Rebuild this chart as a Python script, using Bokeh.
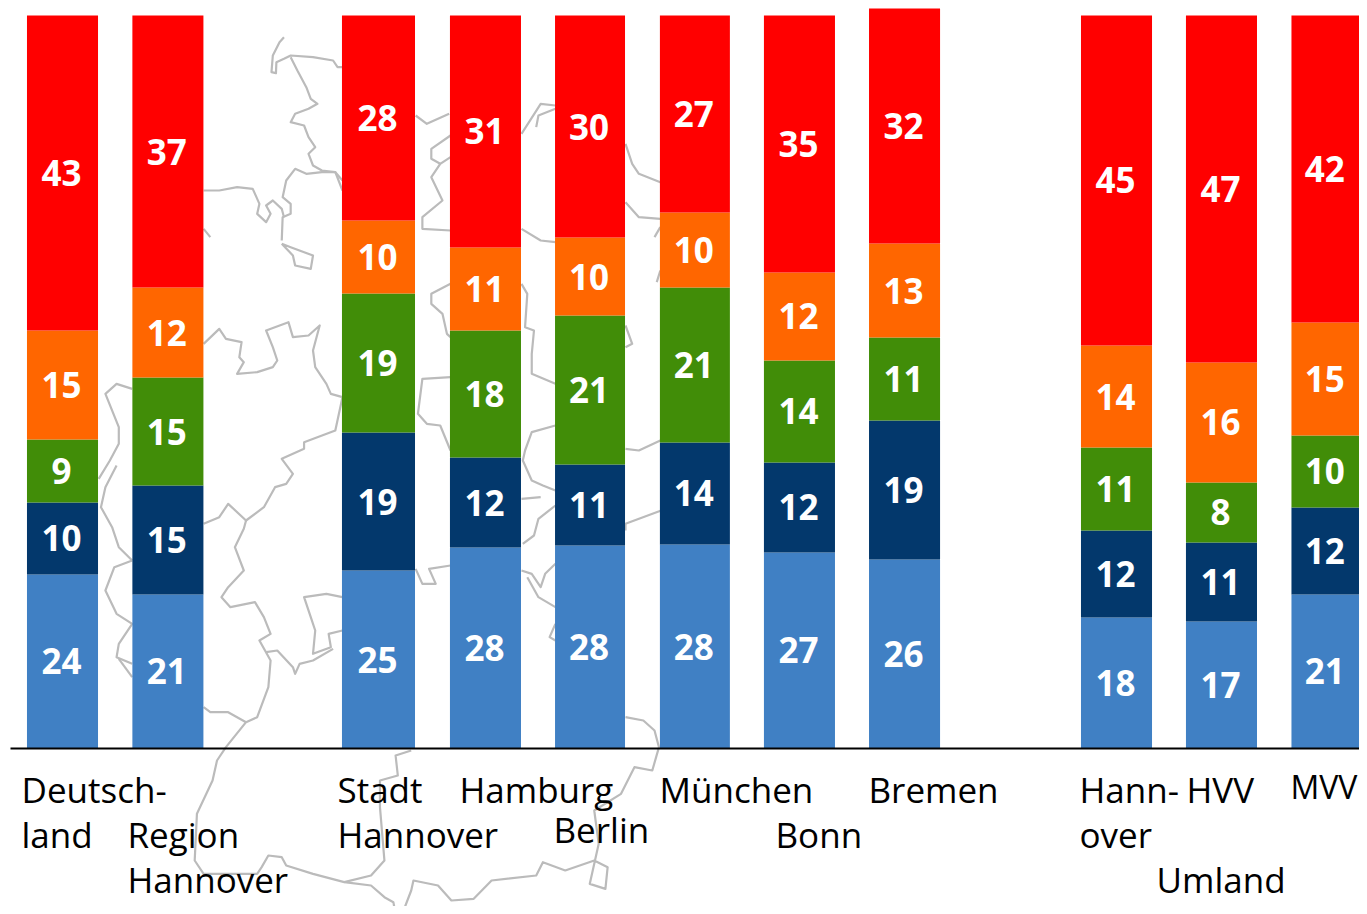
from bokeh.plotting import figure
from bokeh.models import Range1d
from bokeh.core.properties import value
from bokeh.embed import file_html
from bokeh.resources import INLINE

categories = ["Deutschland", "Region Hannover", "Stadt Hannover", "Hamburg", "Berlin", "München",
              "Bonn", "Bremen", "Hannover Umland", "HVV Umland", "MVV Umland"]
seg_blue = [23.74, 21.01, 24.28, 27.42, 27.69, 27.83, 26.74, 25.78, 17.87, 17.33, 21.01]
seg_navy = [9.82, 14.87, 18.83, 12.28, 11.05, 13.92, 12.28, 18.96, 11.87, 10.78, 11.87]
seg_green = [8.59, 14.73, 18.96, 17.33, 20.33, 21.15, 13.92, 11.32, 11.32, 8.19, 9.82]
seg_orange = [14.87, 12.28, 9.96, 11.32, 10.64, 10.23, 12.01, 12.82, 13.92, 16.37, 15.42]
seg_red = [42.97, 37.11, 27.97, 31.65, 30.29, 26.88, 35.06, 32.06, 45.02, 47.34, 41.88]
lab_blue = [24, 21, 25, 28, 28, 28, 27, 26, 18, 17, 21]
lab_navy = [10, 15, 19, 12, 11, 14, 12, 19, 12, 11, 12]
lab_green = [9, 15, 19, 18, 21, 21, 14, 11, 11, 8, 10]
lab_orange = [15, 12, 10, 11, 10, 10, 12, 13, 14, 16, 15]
lab_red = [43, 37, 28, 31, 30, 27, 35, 32, 45, 47, 42]

series = [(seg_blue, lab_blue, "#4080C4"), (seg_navy, lab_navy, "#03386C"), (seg_green, lab_green, "#418D08"),
          (seg_orange, lab_orange, "#FF6600"), (seg_red, lab_red, "#FF0000")]

slots = [0, 1, 2.998, 4.013, 5.005, 6.0, 6.992, 7.989, 10.0, 10.996, 12.015]
widths = [0.674, 0.674, 0.693, 0.674, 0.664, 0.664, 0.674, 0.674, 0.674, 0.674, 0.71]
label_slots = [0, 1, 2.998, 4.013, 5.005, 6.0, 6.992, 7.989, 10.0, 10.996, 11.985]

cat_texts = ["Deutsch-", "land", "Region", "Hannover", "Stadt", "Hannover", "Hamburg", "Berlin", "München",
             "Bonn", "Bremen", "Hann-", "over", "HVV", "Umland"]
text_x = [21, 21, 127, 127, 337, 337, 459, 553, 659, 775, 868, 1079, 1079, 1186, 1156]
text_y = [805, 850, 850, 895, 805, 850, 805, 845, 805, 850, 805, 805, 850, 805, 895]

# background map outline, in trace units
map_lines = [
    [(635,110),(625,125),(610,165),(607,215),(617,218),(618,185),(635,175),(650,165),(700,170),(745,180),(755,200),(766,200)],
    [(650,170),(665,210),(685,260),(695,295),(710,310),(690,325),(660,340),(650,365),(680,375),(690,410),(705,440),(690,460),(700,495),(720,510),(750,515),(766,540)],
    [(766,570),(750,515),(720,515),(685,520),(660,505),(640,540),(632,590),(650,610),(650,640),(632,650),(630,720)],
    [(630,730),(650,740),(700,765),(695,805),(660,795),(655,765),(630,730)],
    [(455,570),(490,570),(530,560),(565,565),(580,610),(575,640),(595,665),(605,640),(595,615),(610,600),(630,625),(635,650)],
    [(455,685),(470,710)],
    [(455,1030),(490,985),(505,1015),(540,1025),(535,1070),(545,1085),(530,1120),(575,1115),(610,1100),(620,1080),(610,1040),(595,990),(645,965),(655,1010),(690,1005),(715,975),(700,1050),(705,1100),(730,1150),(740,1180),(766,1190),(750,1290),(680,1325),(680,1345),(630,1375),(655,1420),(640,1450),(615,1460),(590,1520),(550,1560),(510,1510),(490,1550),(455,1570)],
    [(550,1560),(545,1585),(525,1640),(545,1710),(510,1760),(495,1790),(515,1820),(570,1805),(590,1850),(605,1900),(580,1920),(605,1980),(600,2060),(575,2150),(550,2165),(505,2240),(485,2280),(475,2340),(440,2440),(435,2580),(455,2620),(575,2620),(585,2600),(600,2565),(630,2570),(640,2595),(700,2620),(770,2645),(830,2655),(860,2690),(880,2705),(885,2740),(900,2740),(920,2670),(925,2640),(980,2655),(1010,2700),(1060,2695),(1100,2640),(1200,2625),(1215,2585),(1265,2610),(1330,2580),(1360,2600),(1355,2665),(1320,2650),(1340,2530),(1330,2430),(1390,2380),(1420,2300),(1460,2310),(1475,2240),(1465,2190),(1440,2160),(1400,2150)],
    [(455,2120),(470,2135),(510,2135),(550,2165)],
    [(770,2645),(830,2625),(860,2580),(850,2420),(850,2340),(890,2325),(885,2265),(920,2250)],
    [(1480,1530),(1400,1570),(1400,1590)],
    [(766,1790),(730,1780),(680,1790),(695,1850),(705,1890),(700,1960),(740,1940),(735,1900),(766,1890)],
    [(595,1955),(620,1950),(655,2000),(660,2020),(670,1990),(700,1980),(745,1945)],
    [(930,345),(955,370),(1005,340)],
    [(1008,405),(965,445),(965,475),(985,490),(1008,470)],
    [(985,490),(965,530),(990,600),(945,650),(945,685),(1008,690)],
    [(1008,850),(965,880),(965,910),(990,940),(1000,1000),(1008,1010)],
    [(1008,1130),(945,1135),(935,1240),(955,1270),(985,1275),(1008,1350)],
    [(930,1705),(945,1750),(975,1750),(960,1705),(1008,1695)],
    [(1167,400),(1210,310),(1243,315)],
    [(1200,380),(1205,345),(1243,325)],
    [(1167,685),(1210,720),(1243,725)],
    [(1167,850),(1180,880),(1175,980),(1195,990),(1190,1060),(1190,1120),(1243,1150)],
    [(1243,1275),(1190,1295),(1175,1350),(1170,1380),(1190,1440),(1215,1455),(1243,1470)],
    [(1167,1495),(1210,1490)],
    [(1243,1515),(1205,1555),(1195,1605),(1170,1630)],
    [(1167,1710),(1190,1720),(1210,1760),(1220,1720),(1243,1690)],
    [(1180,1730),(1205,1790),(1243,1820)],
    [(1243,1870),(1230,1910),(1243,1920)],
    [(1400,430),(1415,490),(1430,520),(1478,545)],
    [(1400,605),(1430,650),(1478,655)],
    [(1478,680),(1465,710)],
    [(1478,810),(1470,845)],
    [(1400,975),(1415,1030),(1400,1040)],
    [(1400,1345),(1430,1350),(1478,1320)],
    [(295,1165),(260,1150),(235,1180),(265,1280),(265,1330),(245,1380),(220,1435)],
    [(260,1395),(235,1460),(225,1520),(250,1580),(265,1640),(295,1680)],
    [(295,1680),(255,1700),(235,1770),(260,1840),(295,1870),(265,1930),(260,1970),(295,1990)],
    [(265,1975),(295,2030)],
]

# the returned picture starts at the figure's corner, so its frame maps to (0,0)-(1359,906)
PAGE_L, PAGE_R, PAGE_T, PAGE_B = 0, 1359, 0, 906
BASE, UNIT, SLOT0, SLOTW = 748, 7.33, 62.0, 105.4
BASELINE_SHIFT = 16
LABEL_SHIFT = 0.01

p = figure(width=PAGE_R - PAGE_L, height=PAGE_B - PAGE_T, toolbar_location=None, output_backend="svg",
           x_range=Range1d((PAGE_L - SLOT0) / SLOTW, (PAGE_R - SLOT0) / SLOTW),
           y_range=Range1d((BASE - PAGE_B) / UNIT, (BASE - PAGE_T) / UNIT),
           min_border=0, outline_line_color=None, x_axis_type=None, y_axis_type=None)
p.grid.visible = False
p.background_fill_color = "white"
p.extra_x_ranges["page_x"] = Range1d(PAGE_L, PAGE_R)
p.extra_y_ranges["page_y"] = Range1d(PAGE_B, PAGE_T)
p.extra_x_ranges["trace_x"] = Range1d(PAGE_L * 2.24, PAGE_R * 2.24)
p.extra_y_ranges["trace_y"] = Range1d(PAGE_B * 3, PAGE_T * 3)

p.multi_line([[q[0] for q in l] for l in map_lines], [[q[1] for q in l] for l in map_lines],
             line_color="#BBBBBB", line_width=2.2, line_join="round",
             x_range_name="trace_x", y_range_name="trace_y")

bottom = [0.0] * len(categories)
for seg, lab, col in series:
    top = [b + s for b, s in zip(bottom, seg)]
    p.vbar(x=slots, width=widths, bottom=bottom, top=top, fill_color=col, line_color=None)
    mid = [(b + t) / 2 for b, t in zip(bottom, top)]
    p.text(x=[s - LABEL_SHIFT for s in label_slots], y=mid, text=[str(v) for v in lab], text_color="white",
           text_align="center", text_baseline="middle", text_font=value("Open Sans"), text_font_style="bold",
           text_font_size="35px")
    bottom = top

p.segment(x0=[10], x1=[PAGE_R], y0=[BASE], y1=[BASE], line_color="black", line_width=2,
          x_range_name="page_x", y_range_name="page_y")
p.text(x=text_x, y=[v - BASELINE_SHIFT for v in text_y], text=cat_texts, text_color="black", text_align="left",
       text_baseline="alphabetic", text_font=value("Open Sans"), text_font_size="35px",
       x_range_name="page_x", y_range_name="page_y")
p.text(x=[1290], y=[802 - BASELINE_SHIFT], text=["MVV"], text_color="black", text_align="left",
       text_baseline="alphabetic", text_font=value("Open Sans"), text_font_size="32px",
       x_range_name="page_x", y_range_name="page_y")

open("out.html", "w").write(file_html(p, INLINE))
